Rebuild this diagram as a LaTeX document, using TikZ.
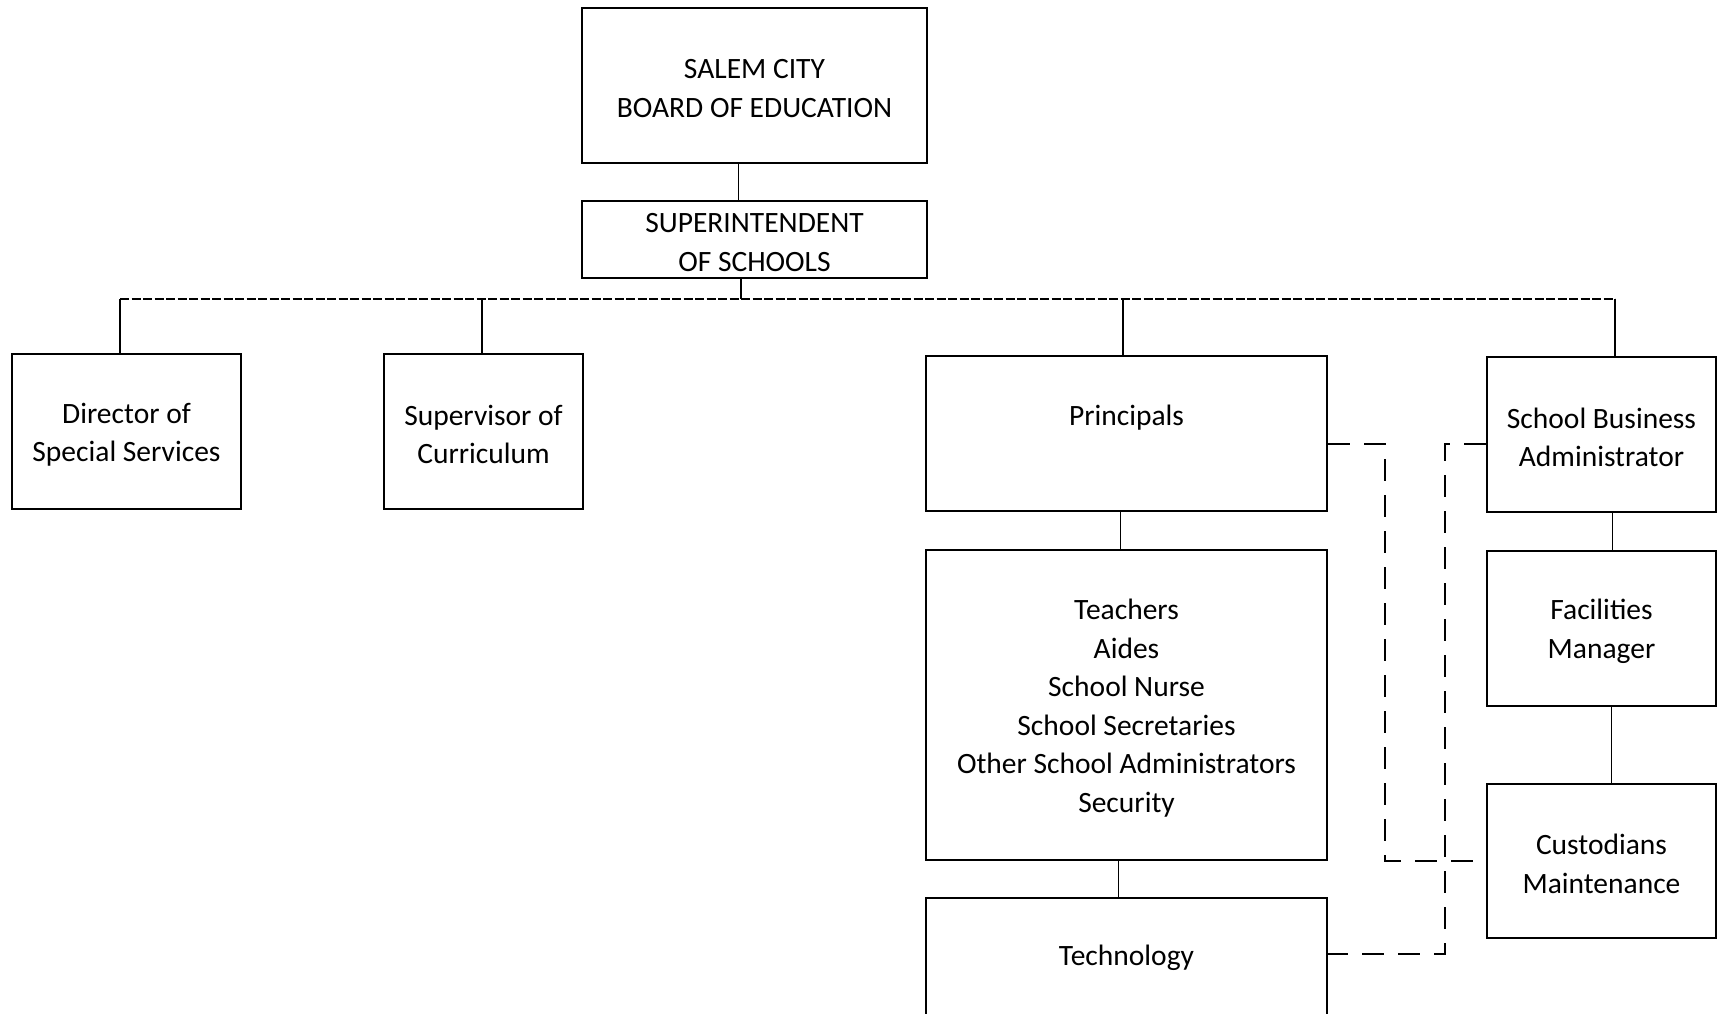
\documentclass[tikz,border=0pt]{standalone}
\usepackage{fontspec}
\setmainfont{Carlito}
\begin{document}
\begin{tikzpicture}[x=1pt,y=-1pt,
  txt/.style={font=\fontsize{29.5}{38.5}\selectfont},
  box/.style={draw, line width=2.2pt, inner sep=0pt},
  lbl/.style={inner sep=0pt, align=center, txt, yshift=-3pt},
  link/.style={line width=1.3pt},
  bus/.style={line width=1.5pt, dash pattern=on 9pt off 2.5pt},
  dotted link/.style={line width=1.6pt, dash pattern=on 22pt off 14pt}]
\useasboundingbox (0,0) rectangle (1724,1013);
\fill[white] (0,0) rectangle (1724,1013);
\clip (0,0) rectangle (1724,1013);

% boxes, each with its text as a centred label
\node[box, minimum width=345pt, minimum height=155pt,
  label={[lbl]center:{SALEM CITY\\BOARD OF EDUCATION}}] (board) at (754.5,85.5) {};
\node[box, minimum width=345pt, minimum height=77pt,
  label={[lbl]center:{SUPERINTENDENT\\OF SCHOOLS}}] (supt) at (754.5,239.5) {};
\node[box, minimum width=229pt, minimum height=155pt,
  label={[lbl]center:{Director of\\Special Services}}] (dir) at (126.5,431.5) {};
\node[box, minimum width=199pt, minimum height=155pt,
  label={[lbl]center:{Supervisor of\\Curriculum}}] (supv) at (483.5,431.5) {};
\node[box, minimum width=401pt, minimum height=155pt,
  label={[lbl, yshift=19pt]center:{Principals}}] (prin) at (1126.5,433.5) {};
\node[box, minimum width=229pt, minimum height=155pt,
  label={[lbl]center:{School Business\\Administrator}}] (sba) at (1601.5,434.5) {};
\node[box, minimum width=401pt, minimum height=310pt,
  label={[lbl]center:{Teachers\\Aides\\School Nurse\\School Secretaries\\Other School Administrators\\Security}}]
  (teach) at (1126.5,705) {};
\node[box, minimum width=401pt, minimum height=155pt,
  label={[lbl, yshift=20.5pt]center:{Technology}}] (tech) at (1126.5,975.5) {};
\node[box, minimum width=229pt, minimum height=155pt,
  label={[lbl]center:{Facilities\\Manager}}] (fac) at (1601.5,628.5) {};
\node[box, minimum width=229pt, minimum height=154pt,
  label={[lbl]center:{Custodians\\Maintenance}}] (cust) at (1601.5,861) {};

% solid reporting lines
\draw[link] ([xshift=-16pt]board.south) -- ([xshift=-16pt]supt.north);
\draw[link] ([xshift=-6pt]prin.south) -- ([xshift=-6pt]teach.north);
\draw[link] ([xshift=-8pt]teach.south) -- ([xshift=-8pt]tech.north);
\draw[link] ([xshift=11pt]sba.south) -- ([xshift=11pt]fac.north);
\draw[link] ([xshift=10pt]fac.south) -- ([xshift=10pt]cust.north);

% bus below the superintendent
\coordinate (bus) at (741,299);
\coordinate (busL) at (120,299);
\coordinate (busR) at (1615,299);
\draw[link] ([xshift=-13.5pt]supt.south) -- (bus);
\draw[bus] (busL) -- (busR);
\draw[link] (busL) -- (busL |- dir.north);
\draw[link] (482,299) -- (482,0 |- supv.north);
\draw[link] (1123,299) -- (1123,0 |- prin.north);
\draw[link] (busR) -- (busR |- sba.north);

% dashed coordination lines
\coordinate (pa) at (1385,444);
\coordinate (pb) at (1385,861);
\draw[dotted link] (prin.east |- pa) -- (pa) -- (pb) -- (cust.west |- pb);
\coordinate (sa) at (1445,444);
\coordinate (sb) at (1445,954);
\draw[dotted link] (sba.west |- sa) -- (sa) -- (sb) -- (tech.east |- sb);
\end{tikzpicture}
\end{document}
